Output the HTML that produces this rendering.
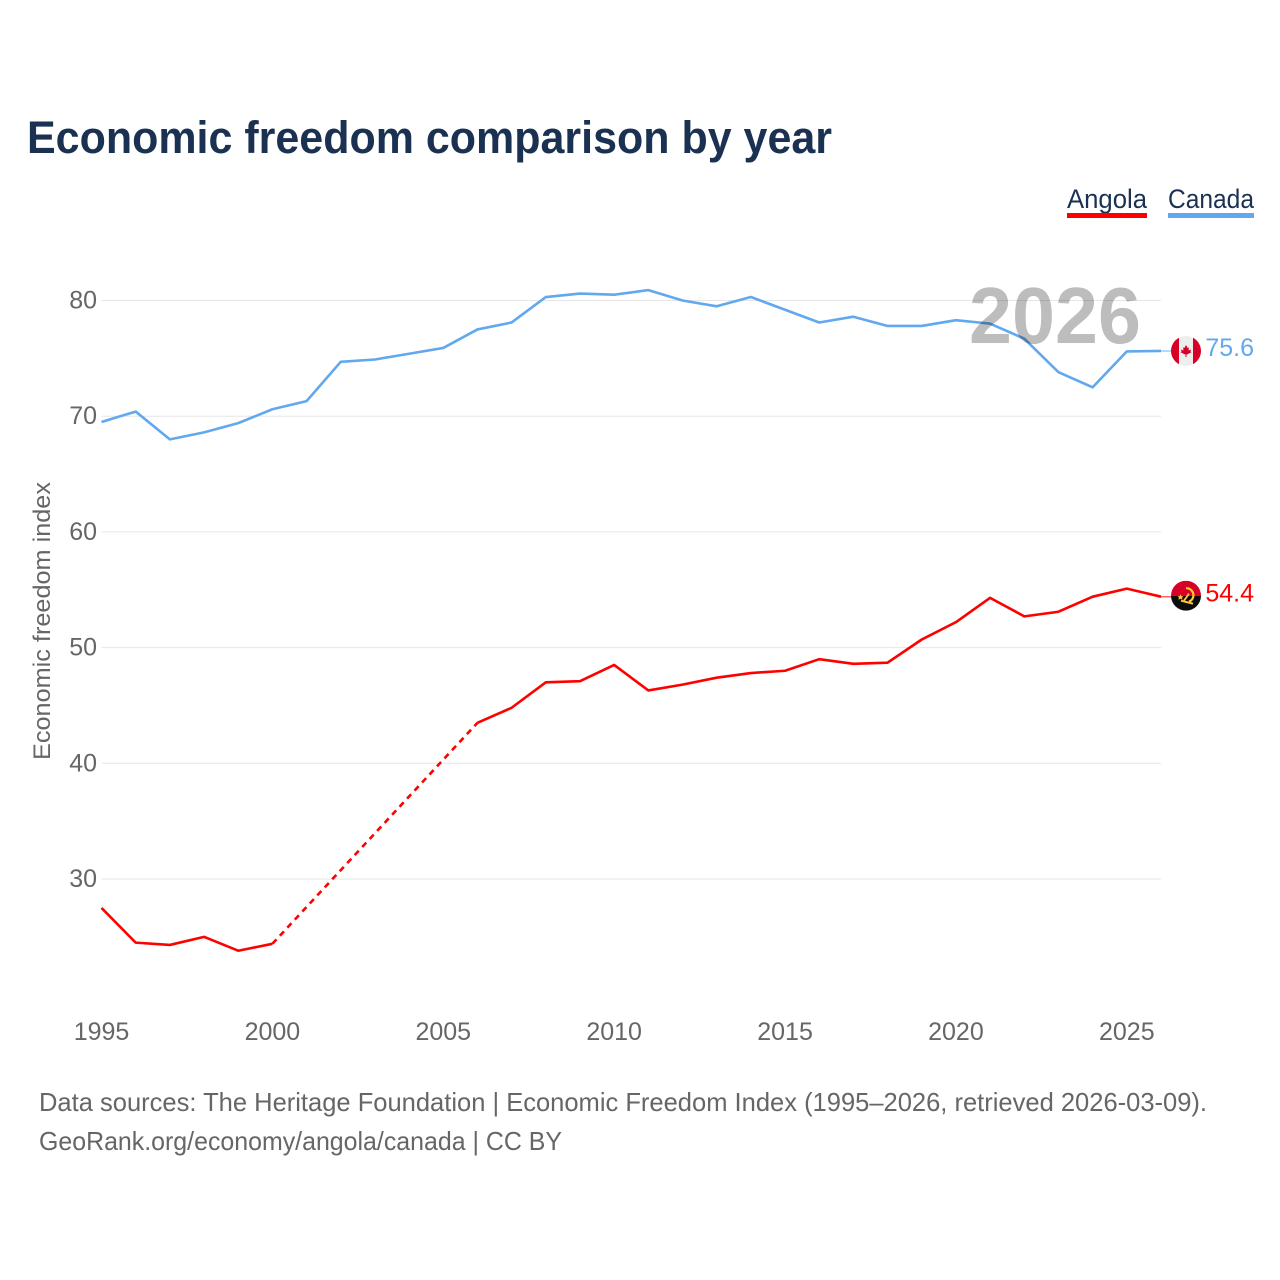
<!DOCTYPE html>
<html lang="en">
<head>
<meta charset="utf-8">
<title>Economic freedom comparison by year</title>
<style>
html,body{margin:0;padding:0;background:#fff;}
#chart{display:block;width:1280px;height:1280px;font-family:"Liberation Sans",sans-serif;}
</style>
</head>
<body>
<svg id="chart" xmlns="http://www.w3.org/2000/svg" width="1280" height="1280" viewBox="0 0 1280 1280">
  <defs>
    <clipPath id="clip-ca"><circle cx="0" cy="0" r="15"/></clipPath>
    <clipPath id="clip-ao"><circle cx="0" cy="0" r="15"/></clipPath>
  </defs>
  <rect width="1280" height="1280" fill="#fff"/>
  <text x="27" y="153" font-size="45" font-weight="700" fill="#1a3152" textLength="805" lengthAdjust="spacingAndGlyphs">Economic freedom comparison by year</text>

  <g>
    <text x="1067" y="208" font-size="27" fill="#1a3152" textLength="80" lengthAdjust="spacingAndGlyphs">Angola</text>
    <rect x="1067" y="213" width="80" height="5" fill="#ff0000"/>
  </g>
  <g>
    <text x="1168" y="208" font-size="27" fill="#1a3152" textLength="86" lengthAdjust="spacingAndGlyphs">Canada</text>
    <rect x="1168" y="213" width="86" height="5" fill="#62a8ee"/>
  </g>

  <g id="grid"></g>
  <g id="y-ticks"></g>
  <g id="x-ticks"></g>
  <text transform="translate(50,621) rotate(-90)" text-anchor="middle" font-size="24" fill="#666" textLength="278" lengthAdjust="spacingAndGlyphs">Economic freedom index</text>

  <g id="series"></g>

  <text x="969" y="343" font-size="80" font-weight="700" fill="#000" fill-opacity="0.26" textLength="172" lengthAdjust="spacingAndGlyphs">2026</text>

  <g id="flag-ca">
    <g clip-path="url(#clip-ca)">
      <rect x="-15" y="-15" width="30" height="30" fill="#eeeeee"/>
      <rect x="-15" y="-15" width="8" height="30" fill="#d80027"/>
      <rect x="7" y="-15" width="8" height="30" fill="#d80027"/>
      <path d="M0,-6 L1.6,-3 L3,-3.6 L2.4,-0.6 L5,-1.4 L4.4,0.6 L5.6,1.2 L1,3.6 L0.5,3.2 L0.5,6 L-0.5,6 L-0.5,3.2 L-1,3.6 L-5.6,1.2 L-4.4,0.6 L-5,-1.4 L-2.4,-0.6 L-3,-3.6 L-1.6,-3 Z" fill="#d80027"/>
    </g>
  </g>
  <g id="flag-ao">
    <g clip-path="url(#clip-ao)">
      <rect x="-15" y="-15" width="30" height="15" fill="#d80027"/>
      <rect x="-15" y="0" width="30" height="15" fill="#0c0c0c"/>
      <path d="M0,-7.5 A7,7 0 0 1 3,6" fill="none" stroke="#ffc83a" stroke-width="2.2"/>
      <path d="M-5,5 L7,8" fill="none" stroke="#ffc83a" stroke-width="2"/>
      <path d="M-2,5 L3,-2" fill="none" stroke="#ffc83a" stroke-width="1.8"/>
      <path d="M-5.5,-1.5 L-4.5,0.5 L-2.5,0.5 L-4,2 L-3.4,4 L-5.5,3 L-7.6,4 L-7,2 L-8.5,0.5 L-6.5,0.5 Z" fill="#ffc83a"/>
    </g>
  </g>
  <text id="label-ca" x="1254" text-anchor="end" font-size="25" fill="#62a8ee"></text>
  <text id="label-ao" x="1254" text-anchor="end" font-size="25" fill="#ff0000"></text>

  <text x="39" y="1111" font-size="26" fill="#666" textLength="1168" lengthAdjust="spacingAndGlyphs">Data sources: The Heritage Foundation | Economic Freedom Index (1995–2026, retrieved 2026-03-09).</text>
  <text x="39" y="1150" font-size="26" fill="#666" textLength="523" lengthAdjust="spacingAndGlyphs">GeoRank.org/economy/angola/canada | CC BY</text>
</svg>
<script>
const years = [1995,1996,1997,1998,1999,2000,2001,2002,2003,2004,2005,2006,2007,2008,2009,2010,2011,2012,2013,2014,2015,2016,2017,2018,2019,2020,2021,2022,2023,2024,2025,2026];
const canadaValues = [69.5,70.4,68.0,68.6,69.4,70.6,71.3,74.7,74.9,75.4,75.9,77.5,78.1,80.3,80.6,80.5,80.9,80.0,79.5,80.3,79.2,78.1,78.6,77.8,77.8,78.3,78.0,76.7,73.8,72.5,75.6,75.64];
const angolaValues = [27.5,24.5,24.3,25.0,23.8,24.4,null,null,null,null,null,43.5,44.8,47.0,47.1,48.5,46.3,46.8,47.4,47.8,48.0,49.0,48.6,48.7,50.7,52.2,54.3,52.7,53.1,54.4,55.1,54.4];
const yTickValues = [30,40,50,60,70,80];
const xTickValues = [1995,2000,2005,2010,2015,2020,2025];

const NS = 'http://www.w3.org/2000/svg';
const xScale = function (year) { return 101.5 + (year - 1995) * (1059.5 / 31); };
const yScale = function (value) { return 300.5 + (80 - value) * 11.57; };
const MARKER_X = 1186;
const byId = function (id) { return document.getElementById(id); };

yTickValues.forEach(function (tick) {
  const line = document.createElementNS(NS, 'line');
  
  
  line.setAttribute('x1', xScale(1995));
  line.setAttribute('x2', xScale(2026));
  line.setAttribute('y1', yScale(tick));
  line.setAttribute('y2', yScale(tick));
  line.setAttribute('stroke', '#e6e6e6');
  line.setAttribute('stroke-width', '1');
  byId('grid').appendChild(line);

  const label = document.createElementNS(NS, 'text');
  
  
  label.setAttribute('x', 97);
  label.setAttribute('y', yScale(tick) + 8);
  label.setAttribute('text-anchor', 'end');
  label.setAttribute('font-size', '25');
  label.setAttribute('fill', '#666');
  label.textContent = tick;
  byId('y-ticks').appendChild(label);
});

xTickValues.forEach(function (tick) {
  const label = document.createElementNS(NS, 'text');
  
  
  label.setAttribute('x', xScale(tick));
  label.setAttribute('y', 1040);
  label.setAttribute('text-anchor', 'middle');
  label.setAttribute('font-size', '25');
  label.setAttribute('fill', '#666');
  label.textContent = tick;
  byId('x-ticks').appendChild(label);
});

function drawSeries(values, color, key) {
  const solidRuns = [];
  const bridges = [];
  let run = [];
  let lastPoint = null;
  values.forEach(function (value, i) {
    if (value === null) {
      if (run.length) { solidRuns.push(run); run = []; }
      return;
    }
    const point = [xScale(years[i]), yScale(value)];
    if (run.length === 0 && lastPoint) { bridges.push([lastPoint, point]); }
    run.push(point);
    lastPoint = point;
  });
  if (run.length) { solidRuns.push(run); }

  solidRuns.forEach(function (points) {
    const path = document.createElementNS(NS, 'polyline');
    
    
    path.setAttribute('points', points.map(function (p) { return p[0].toFixed(2) + ',' + p[1].toFixed(2); }).join(' '));
    path.setAttribute('fill', 'none');
    path.setAttribute('stroke', color);
    path.setAttribute('stroke-width', '2.6');
    path.setAttribute('stroke-linejoin', 'round');
    byId('series').appendChild(path);
  });

  bridges.forEach(function (pair) {
    const dash = document.createElementNS(NS, 'line');
    
    
    dash.setAttribute('x1', pair[0][0]);
    dash.setAttribute('y1', pair[0][1]);
    dash.setAttribute('x2', pair[1][0]);
    dash.setAttribute('y2', pair[1][1]);
    dash.setAttribute('stroke', color);
    dash.setAttribute('stroke-width', '2.6');
    dash.setAttribute('stroke-dasharray', '6 5');
    byId('series').appendChild(dash);
  });

  const endY = yScale(values[values.length - 1]);
  const connector = document.createElementNS(NS, 'line');
  
  
  connector.setAttribute('x1', xScale(2026));
  connector.setAttribute('y1', endY);
  connector.setAttribute('x2', MARKER_X);
  connector.setAttribute('y2', endY);
  connector.setAttribute('stroke', color);
  connector.setAttribute('stroke-width', '1.5');
  connector.setAttribute('stroke-opacity', '0.6');
  byId('series').appendChild(connector);
  return endY;
}

const endAngola = drawSeries(angolaValues, '#ff0000', 'angola');
const endCanada = drawSeries(canadaValues, '#62a8ee', 'canada');

byId('flag-ca').setAttribute('transform', 'translate(' + MARKER_X + ',' + endCanada + ')');
byId('flag-ao').setAttribute('transform', 'translate(' + MARKER_X + ',' + (endAngola - 1) + ')');
byId('label-ca').setAttribute('y', endCanada + 5);
byId('label-ao').setAttribute('y', endAngola + 5);
byId('label-ca').textContent = canadaValues[canadaValues.length - 1].toFixed(1);
byId('label-ao').textContent = angolaValues[angolaValues.length - 1].toFixed(1);
</script>
</body>
</html>
